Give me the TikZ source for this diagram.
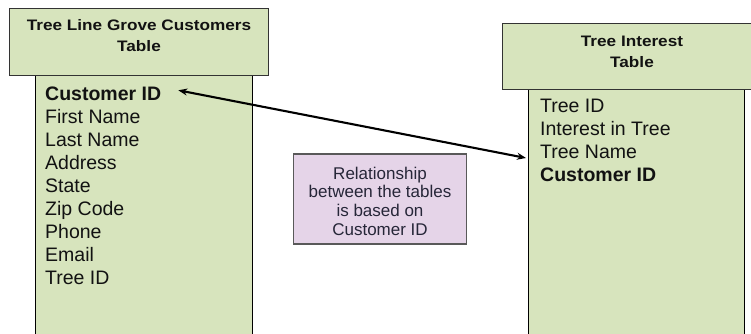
\documentclass[tikz,border=0pt]{standalone}
\usepackage{fontspec}
\setmainfont{Liberation Sans}
\newfontfamily\hdrfont{Liberation Sans}[FakeStretch=1.13]
\usetikzlibrary{arrows.meta,calc}
\definecolor{tblgreen}{HTML}{D7E4BD}
\definecolor{relfill}{HTML}{E5D4E8}
\definecolor{reldraw}{HTML}{595959}
\definecolor{reltext}{HTML}{262638}
\definecolor{txt}{HTML}{121212}
\tikzset{
  hdrbox/.style={draw=black!80, line width=0.9pt, fill=tblgreen, rectangle, inner sep=0pt},
  bodybox/.style={draw=black, line width=0.9pt, fill=tblgreen},
  hdrtext/.style={font=\hdrfont\bfseries\fontsize{15.2}{21}\selectfont, text=txt, align=center, inner sep=0pt},
  item/.style={font=\fontsize{19.5}{23}\selectfont, text=txt, anchor=base west, inner sep=0pt},
  itemb/.style={item, font=\bfseries\fontsize{19.5}{23}\selectfont},
  relbox/.style={draw=reldraw, line width=1.2pt, fill=relfill, rectangle, inner sep=0pt,
    minimum width=173pt, minimum height=90pt},
  reltxt/.style={font=\fontsize{17}{18.7}\selectfont, text=reltext, align=center, inner sep=0pt},
  rel/.style={line width=2.1pt, black, {Stealth[length=9pt,width=7pt]}-{Stealth[length=9pt,width=7pt]}}
}
\begin{document}
\begin{tikzpicture}[x=1pt,y=-1pt]
\useasboundingbox (0,0) rectangle (751,333);
\clip (0,0) rectangle (751,333);
% left table
\draw[bodybox] (35,75) rectangle (252,340);
\node[hdrbox, minimum width=259pt, minimum height=67pt] (lh) at (138.5,41.5) {};
\node[hdrtext] (lht) at (139,36) {Tree Line Grove Customers\\Table};
\node[itemb] (lcid) at (45,100) {Customer ID};
\node[item] (l1) at (45,123.1) {First Name};
\node[item] (l2) at (45,146.2) {Last Name};
\node[item] (l3) at (45,169.3) {Address};
\node[item] (l4) at (45,192.4) {State};
\node[item] (l5) at (45,215.5) {Zip Code};
\node[item] (l6) at (45,238.6) {Phone};
\node[item] (l7) at (45,261.7) {Email};
\node[item] (l8) at (45,284.8) {Tree ID};
% right table
\draw[bodybox] (528,89) rectangle (744,340);
\node[hdrbox, minimum width=260pt, minimum height=66pt] (rh) at (632,56) {};
\node[hdrtext] (rht) at (632,51.5) {Tree Interest\\Table};
\node[item] (r1) at (540,112) {Tree ID};
\node[item] (r2) at (540,135.3) {Interest in Tree};
\node[item] (r3) at (540,158.6) {Tree Name};
\node[itemb] (rcid) at (540,181.9) {Customer ID};
% relationship note
\node[relbox] (rel) at (380,199) {};
\node[reltxt] (relt) at (380,201) {Relationship\\between the tables\\is based on\\Customer ID};
% connector
\coordinate (ltip) at ($(lcid.east)+(17,-3)$);
\coordinate (rtip) at ($(r3.west)+(-14,6)$);
\draw[rel] (ltip) -- (rtip);
\end{tikzpicture}
\end{document}
